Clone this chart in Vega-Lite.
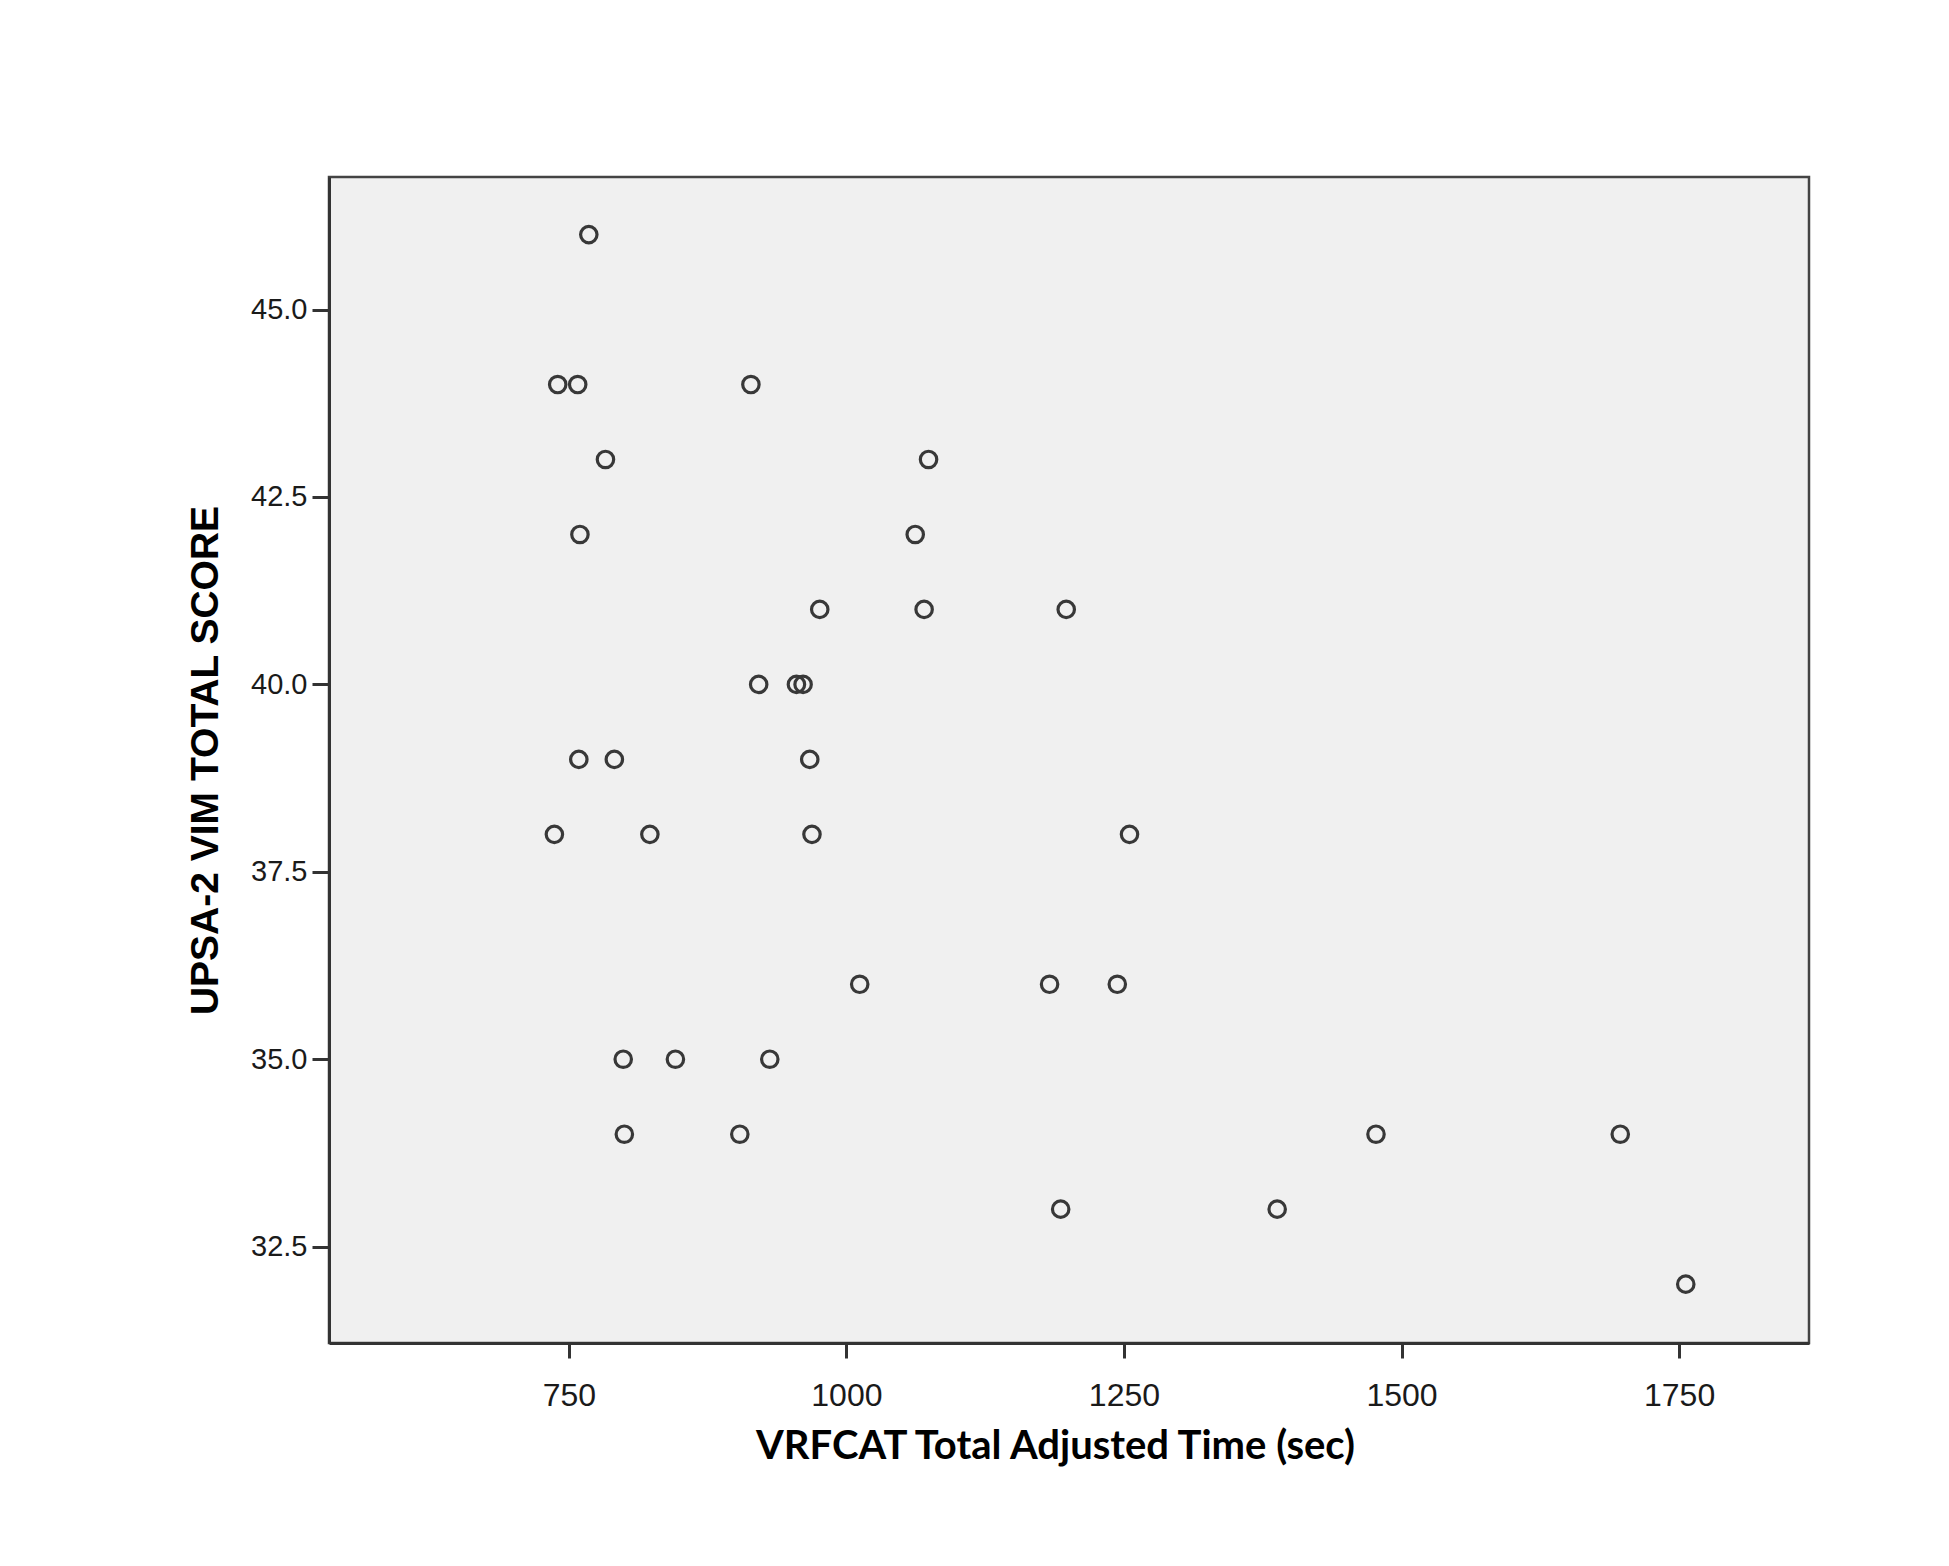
{
  "$schema": "https://vega.github.io/schema/vega-lite/v6.json",
  "width": 1480,
  "height": 1166,
  "autosize": {"type": "none"},
  "padding": {"left": 329, "top": 177, "right": 140, "bottom": 223},
  "background": "#ffffff",
  "data": {
    "values": [
      {"time": 768, "score": 46},
      {"time": 740, "score": 44},
      {"time": 758, "score": 44},
      {"time": 914, "score": 44},
      {"time": 783, "score": 43},
      {"time": 1074, "score": 43},
      {"time": 760, "score": 42},
      {"time": 1062, "score": 42},
      {"time": 976, "score": 41},
      {"time": 1070, "score": 41},
      {"time": 1198, "score": 41},
      {"time": 921, "score": 40},
      {"time": 955, "score": 40},
      {"time": 961, "score": 40},
      {"time": 759, "score": 39},
      {"time": 791, "score": 39},
      {"time": 967, "score": 39},
      {"time": 737, "score": 38},
      {"time": 823, "score": 38},
      {"time": 969, "score": 38},
      {"time": 1255, "score": 38},
      {"time": 1012, "score": 36},
      {"time": 1183, "score": 36},
      {"time": 1244, "score": 36},
      {"time": 799, "score": 35},
      {"time": 846, "score": 35},
      {"time": 931, "score": 35},
      {"time": 800, "score": 34},
      {"time": 904, "score": 34},
      {"time": 1477, "score": 34},
      {"time": 1697, "score": 34},
      {"time": 1193, "score": 33},
      {"time": 1388, "score": 33},
      {"time": 1756, "score": 32}
    ]
  },
  "mark": {
    "type": "point",
    "shape": "circle",
    "filled": false,
    "size": 270,
    "stroke": "#383838",
    "strokeWidth": 3.2,
    "opacity": 1
  },
  "encoding": {
    "x": {
      "field": "time",
      "type": "quantitative",
      "scale": {"domain": [534, 1867], "nice": false, "zero": false},
      "axis": {
        "title": "VRFCAT Total Adjusted Time (sec)",
        "values": [750, 1000, 1250, 1500, 1750],
        "format": "d",
        "grid": false,
        "domainColor": "#333333",
        "domainWidth": 3,
        "tickColor": "#333333",
        "tickWidth": 3,
        "tickSize": 15,
        "labelFont": "Liberation Sans Narrow, Arial Narrow, Liberation Sans",
        "labelFontSize": 32,
        "labelColor": "#1a1a1a",
        "labelPadding": 22,
        "titleFont": "Lato",
        "titleFontWeight": "bold",
        "titleFontSize": 40,
        "titleColor": "#000000",
        "titlePadding": 15,
        "titleX": 726
      }
    },
    "y": {
      "field": "score",
      "type": "quantitative",
      "scale": {"domain": [31.215, 46.768], "nice": false, "zero": false},
      "axis": {
        "title": "UPSA-2 VIM TOTAL SCORE",
        "values": [32.5, 35, 37.5, 40, 42.5, 45],
        "format": ".1f",
        "grid": false,
        "domainColor": "#333333",
        "domainWidth": 3,
        "tickColor": "#333333",
        "tickWidth": 3,
        "tickSize": 17,
        "labelFont": "Liberation Sans",
        "labelFontSize": 29,
        "labelColor": "#1a1a1a",
        "labelPadding": 5,
        "titleFont": "Liberation Sans",
        "titleFontWeight": "bold",
        "titleFontSize": 39,
        "titleColor": "#000000",
        "titlePadding": 25
      }
    }
  },
  "config": {
    "view": {"fill": "#f0f0f0", "stroke": "#444444", "strokeWidth": 2.5}
  }
}
